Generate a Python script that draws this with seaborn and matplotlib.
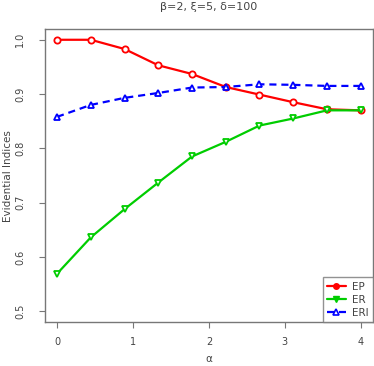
import matplotlib
matplotlib.use("Agg")
import matplotlib.pyplot as plt
import numpy as np
import pandas as pd
import seaborn as sns
from matplotlib.lines import Line2D

# values
alpha = np.linspace(0, 4, 10)
ep = [1.000, 1.000, 0.983, 0.953, 0.937, 0.913, 0.899, 0.885, 0.872, 0.870]
er = [0.569, 0.636, 0.688, 0.737, 0.785, 0.812, 0.842, 0.855, 0.870, 0.870]
eri = [0.858, 0.880, 0.893, 0.902, 0.912, 0.913, 0.918, 0.917, 0.915, 0.915]
series_names = ["EP", "ER", "ERI"]
colors = {"EP": "#ff0000", "ER": "#00cd00", "ERI": "#0000ff"}

df = pd.concat(
    [
        pd.DataFrame({"alpha": alpha, "value": vals, "index": name})
        for name, vals in zip(series_names, [ep, er, eri])
    ],
    ignore_index=True,
)

sns.set_style("white")
plt.rcParams["font.family"] = ["DejaVu Sans"]

W, H = 374, 366
fig = plt.figure(figsize=(W / 100, H / 100), dpi=100)
ax = fig.add_axes([0.120, 0.120, 0.877, 0.801])

sns.lineplot(
    data=df,
    x="alpha",
    y="value",
    hue="index",
    style="index",
    palette=colors,
    markers={"EP": "o", "ER": "v", "ERI": "^"},
    dashes={"EP": "", "ER": "", "ERI": (3.2, 2.2)},
    linewidth=1.6,
    markersize=4.5,
    markerfacecolor="white",
    markeredgewidth=1.3,
    legend=False,
    ax=ax,
)
# marker edges follow series colour
for line, name in zip(ax.get_lines(), series_names):
    line.set_markeredgecolor(colors[name])

ax.set_xlim(-0.16, 4.16)
ax.set_ylim(0.48, 1.02)
ax.set_xticks([0, 1, 2, 3, 4])
ax.set_yticks([0.5, 0.6, 0.7, 0.8, 0.9, 1.0])
ax.set_yticklabels(["0.5", "0.6", "0.7", "0.8", "0.9", "1.0"], rotation=90, va="center")

text_col = "#444444"
for side in ax.spines.values():
    side.set_color("#777777")
    side.set_linewidth(1.0)
ax.tick_params(axis="both", direction="out", length=4, width=0.8, color="#777777",
               labelsize=7, labelcolor=text_col)
ax.tick_params(axis="x", pad=7)
ax.tick_params(axis="y", pad=10)
ax.tick_params(left=True, bottom=True)

# axis labels and title placed like the R device output
ax.set_xlabel("")
ax.set_ylabel("")
fig.text(209 / W, 1 - 359 / H, "α", fontsize=7.5, color=text_col, ha="center", va="center")
fig.text(8 / W, 1 - 176 / H, "Evidential Indices", fontsize=7.5, color=text_col,
         ha="center", va="center", rotation=90)
fig.text(209 / W, 1 - 7 / H, "β=2, ξ=5, δ=100", fontsize=8, color=text_col,
         ha="center", va="center")

handles = [
    Line2D([], [], color=colors["EP"], marker="o", markersize=4, lw=1.6),
    Line2D([], [], color=colors["ER"], marker="v", markersize=4.5, lw=1.6),
    Line2D([], [], color=colors["ERI"], marker="^", markersize=4, lw=1.6,
           markerfacecolor="white", markeredgewidth=1.2, dashes=(3.2, 2.2)),
]
leg = ax.legend(handles, series_names, loc="lower right", fontsize=7.5,
                frameon=True, fancybox=False, borderaxespad=0,
                handlelength=1.8, handletextpad=0.6, borderpad=0.4,
                labelspacing=0.3, labelcolor=text_col)
leg.get_frame().set_edgecolor("#777777")
leg.get_frame().set_linewidth(1.0)

fig.savefig("out.png", dpi=100)
